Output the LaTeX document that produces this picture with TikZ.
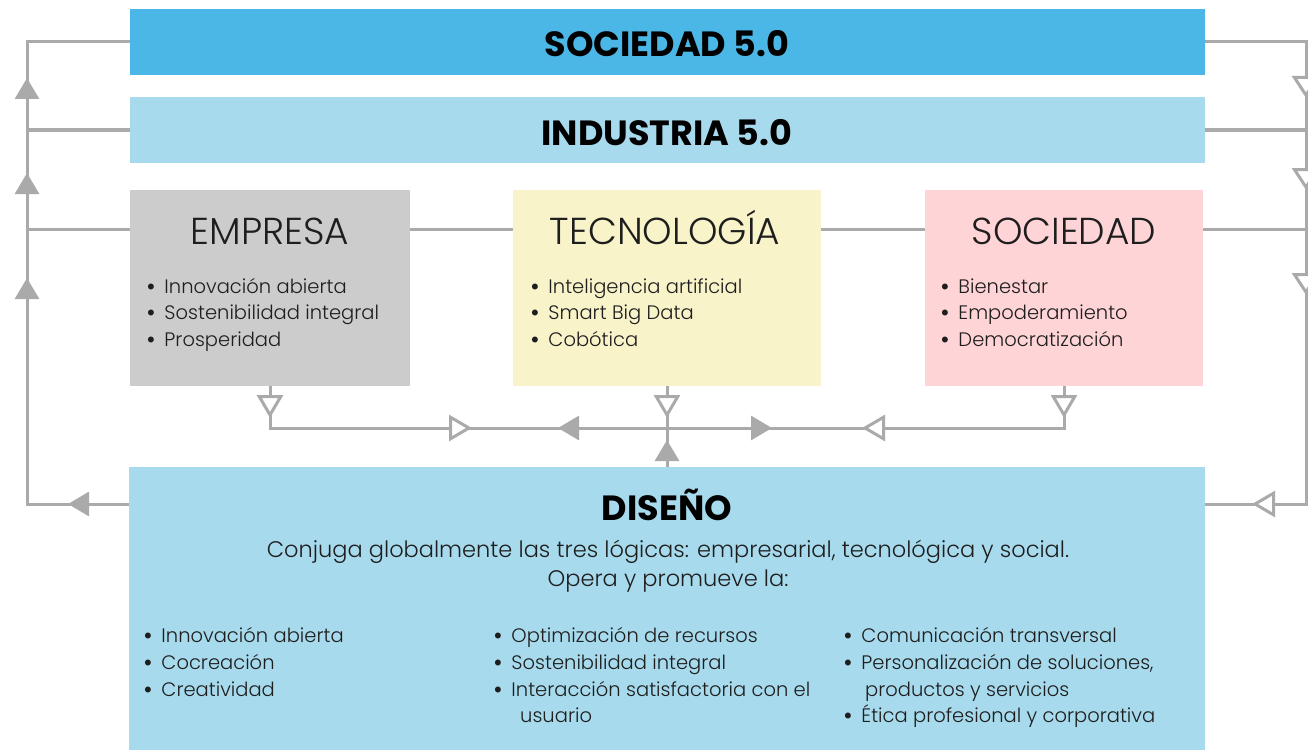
\documentclass[tikz,border=0pt]{standalone}
\usepackage{fontspec}
\setmainfont{Poppins Light}
\newfontfamily\boldf{Poppins Bold}
\usetikzlibrary{arrows.meta,decorations.markings}
\definecolor{cdark}{HTML}{4AB7E6}
\definecolor{clight}{HTML}{A7DAEC}
\definecolor{cgray}{HTML}{CCCCCC}
\definecolor{cyel}{HTML}{F8F3C9}
\definecolor{cpink}{HTML}{FFD4D7}
\definecolor{lc}{HTML}{AAAAAA}
\definecolor{tc}{HTML}{1E1E1E}
\newcommand\bitem[4]{\node[txt, anchor=base west] (#1) at (#2,#3) {{\boldf\textbullet}\hspace{8.5pt}#4};}
\begin{document}
\begin{tikzpicture}[x=1pt,y=-1pt,
  box/.style={rectangle, draw=none, inner sep=0pt, outer sep=0pt},
  ttl/.style={font=\boldf\fontsize{35}{38}\selectfont, anchor=base, inner sep=0pt, text=black},
  sub/.style={font=\fontsize{37.5}{40}\selectfont, anchor=base, inner sep=0pt, text=tc},
  txt/.style={font=\fontsize{19.5}{26}\selectfont, inner sep=0pt, text=tc},
  big/.style={font=\fontsize{22.5}{26}\selectfont, inner sep=0pt, text=tc, anchor=base},
  ln/.style={draw=lc, line width=3pt},
  fa/.style={postaction={decorate, decoration={markings, mark=at position #1 with {\arrow{Triangle[length=21pt,width=24pt,fill=lc]}}}}},
  far/.style={postaction={decorate, decoration={markings, mark=at position #1 with {\arrowreversed{Triangle[length=21pt,width=24pt,fill=lc]}}}}},
  oa/.style={postaction={decorate, decoration={markings, mark=at position #1 with {\arrow{Triangle[length=23pt,width=26pt,fill=white]}}}}},
  oar/.style={postaction={decorate, decoration={markings, mark=at position #1 with {\arrow{Triangle[length=22pt,width=28pt,fill=white]}}}}}
]
\useasboundingbox (0,0) rectangle (1308,749);
% boxes
\node[box, fill=cdark, minimum width=1075pt, minimum height=66pt] (soc5) at (667.5,42) {};
\node[box, fill=clight, minimum width=1075pt, minimum height=66pt] (ind5) at (667.5,130) {};
\node[box, fill=cgray, minimum width=280pt, minimum height=196pt] (emp) at (270,288) {};
\node[box, fill=cyel, minimum width=308pt, minimum height=196pt] (tec) at (667,288) {};
\node[box, fill=cpink, minimum width=278pt, minimum height=196pt] (soci) at (1064,288) {};
\node[box, fill=clight, minimum width=1076pt, minimum height=290pt] (dis) at (667,612) {};
% titles
\node[ttl] (soc5t) at (667,57) {SOCIEDAD 5.0};
\node[ttl] (ind5t) at (667,146) {INDUSTRIA 5.0};
\node[ttl] (dist) at (667,520) {DISEÑO};
\node[sub] (empt) at (270,244) {EMPRESA};
\node[sub] (tect) at (665,244) {TECNOLOGÍA};
\node[sub] (socit) at (1064,244) {SOCIEDAD};
% box lists
\bitem{e1}{146}{293}{Innovación abierta}
\bitem{e2}{146}{319.5}{Sostenibilidad integral}
\bitem{e3}{146}{346}{Prosperidad}
\bitem{t1}{530}{293}{Inteligencia artificial}
\bitem{t2}{530}{319.5}{Smart Big Data}
\bitem{t3}{530}{346}{Cobótica}
\bitem{s1}{940}{293}{Bienestar}
\bitem{s2}{940}{319.5}{Empoderamiento}
\bitem{s3}{940}{346}{Democratización}
% diseño text
\node[big] (d0) at (668,557) {Conjuga globalmente las tres lógicas: empresarial, tecnológica y social.};
\node[big] (d00) at (668,586) {Opera y promueve la:};
\bitem{a1}{143}{642}{Innovación abierta}
\bitem{a2}{143}{669}{Cocreación}
\bitem{a3}{143}{696}{Creatividad}
\bitem{b1}{493}{642}{Optimización de recursos}
\bitem{b2}{493}{669}{Sostenibilidad integral}
\bitem{b3}{493}{696}{Interacción satisfactoria con el}
\node[txt, anchor=base west] (b4) at (520,722) {usuario};
\bitem{c1}{843}{642}{Comunicación transversal}
\bitem{c2}{843}{669}{Personalización de soluciones,}
\node[txt, anchor=base west] (c3) at (865,696) {productos y servicios};
\bitem{c4}{843}{722}{Ética profesional y corporativa}
% coordinates
\coordinate (lb) at (27,504);
\coordinate (rb) at (1306,504);
\coordinate (dl) at (129,504);
\coordinate (dr) at (1205,504);
\coordinate (ew) at (130,229);
\coordinate (cm) at (667,428);
% left loop
\path[ln, fa=61pt, fa=328pt, fa=433pt, fa=528pt] (dl) -- (lb) |- (soc5.west);
\path[ln] (ind5.west) -- (ind5.west -| lb);
\path[ln] (ew) -- (ew -| lb);
% right loop
\path[ln, oar=157pt, oar=249pt, oar=354pt, oa=617pt] (soc5.east) -| (rb) -- (dr);
\path[ln] (ind5.east) -- (ind5.east -| rb);
\path[ln] (soci.east |- ew) -- (ew -| rb);
% between boxes
\path[ln] (emp.east |- ew) -- (tec.west |- ew);
\path[ln] (tec.east |- ew) -- (soci.west |- ew);
% center
\path[ln, oa=32pt, oa=244pt, far=330pt] (emp.south) |- (cm);
\path[ln, oa=32pt, oa=244pt, far=334pt] (soci.south) |- (cm);
\path[ln, oa=32pt] (tec.south) -- (cm);
\path[ln, fa=27pt] (dis.north) -- (cm);
\end{tikzpicture}
\end{document}
